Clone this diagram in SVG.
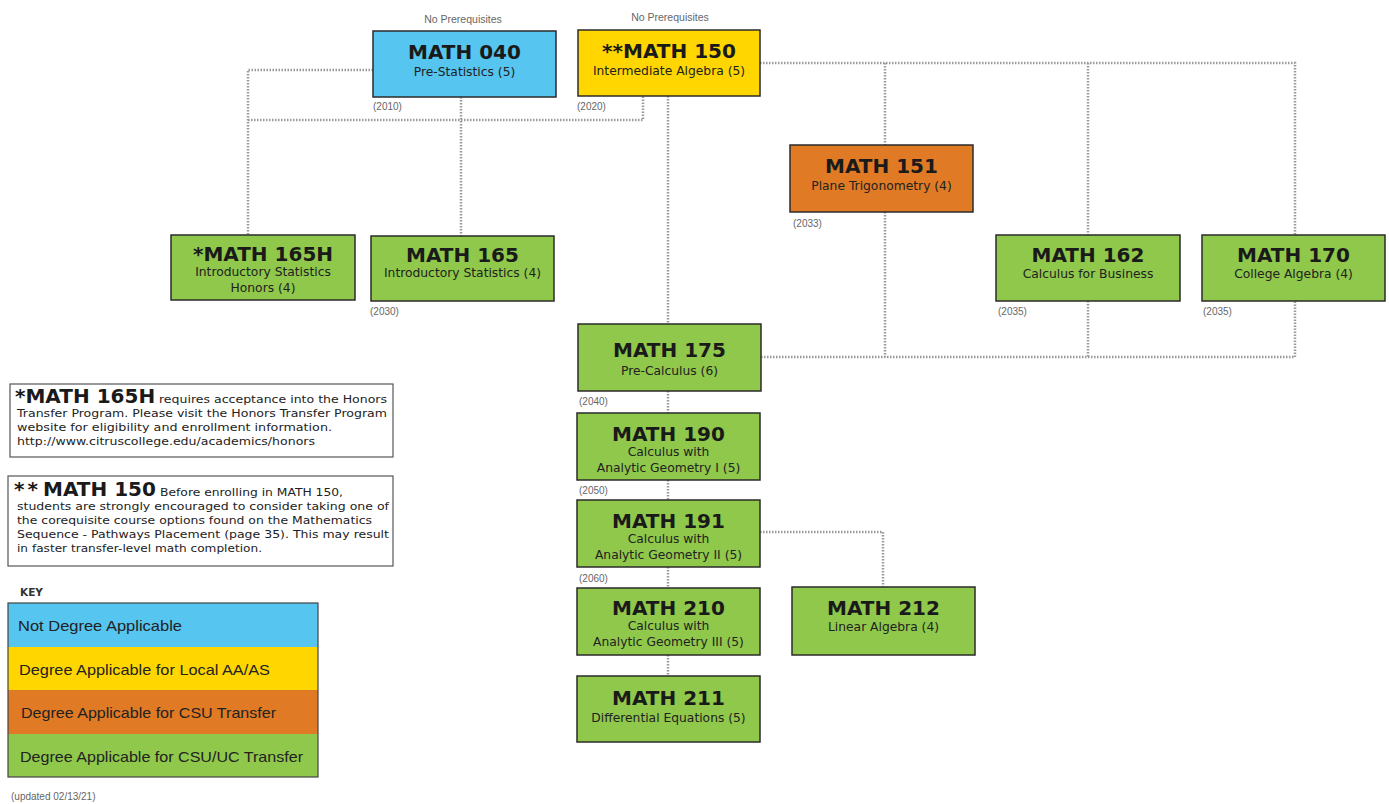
<svg xmlns="http://www.w3.org/2000/svg" width="1389" height="804" viewBox="0 0 1389 804">
<style>
.box{stroke:#2b2b2b;stroke-width:1.5}
.blue{fill:#56c5ef}.yellow{fill:#ffd600}.orange{fill:#e07a25}.green{fill:#8fc84a}
.t{font-family:"DejaVu Sans",Verdana,sans-serif;font-weight:bold;font-size:20px;fill:#1a1a1a;text-anchor:middle}
.s{font-family:"DejaVu Sans",Verdana,sans-serif;font-size:12.3px;fill:#222;text-anchor:middle}
.yr{font-family:"Liberation Sans",Arial,sans-serif;font-size:10px;fill:#666}
.np{font-family:"Liberation Sans",Arial,sans-serif;font-size:10.5px;fill:#666;text-anchor:middle}
.c{fill:none;stroke:#9a9a9a;stroke-width:2.5;stroke-dasharray:1.5 1.5}
.note{font-family:"DejaVu Sans",Verdana,sans-serif;font-size:11px;fill:#222}
.noteb{font-family:"DejaVu Sans",Verdana,sans-serif;font-size:20px;font-weight:bold;fill:#1a1a1a}
.key{font-family:"Liberation Sans",Arial,sans-serif;font-size:15px;fill:#222}
</style>
<rect width="1389" height="804" fill="#ffffff"/>
<g id="connectors">
<path class="c" d="M373 70 H248 V235"/>
<path class="c" d="M248 120 H643 V96"/>
<path class="c" d="M461 97 V236"/>
<path class="c" d="M668 96 V324"/>
<path class="c" d="M760 63 H1295 V235"/>
<path class="c" d="M885 63 V145"/>
<path class="c" d="M1088 63 V235"/>
<path class="c" d="M761 357 H1295 V301"/>
<path class="c" d="M885 212 V357"/>
<path class="c" d="M1088 301 V357"/>
<path class="c" d="M668 391 V413"/>
<path class="c" d="M668 480 V500"/>
<path class="c" d="M668 567 V588"/>
<path class="c" d="M668 655 V676"/>
<path class="c" d="M760 532 H883 V587"/>
</g>
<g id="math040">
<text class="np" x="463" y="23">No Prerequisites</text>
<rect class="box blue" x="373" y="31" width="183" height="66"/>
<text class="t" x="464.5" y="59">MATH 040</text>
<text class="s" x="464.5" y="76">Pre-Statistics (5)</text>
<text class="yr" x="373" y="110">(2010)</text>
</g>
<g id="math150">
<text class="np" x="670" y="21">No Prerequisites</text>
<rect class="box yellow" x="578" y="30" width="182" height="66"/>
<text class="t" x="669" y="58">**MATH 150</text>
<text class="s" x="669" y="75">Intermediate Algebra (5)</text>
<text class="yr" x="577" y="110">(2020)</text>
</g>
<g id="math151">
<rect class="box orange" x="790" y="145" width="183" height="67"/>
<text class="t" x="881.5" y="173">MATH 151</text>
<text class="s" x="881.5" y="190">Plane Trigonometry (4)</text>
<text class="yr" x="793" y="227">(2033)</text>
</g>
<g id="math165h">
<rect class="box green" x="171" y="235" width="184" height="65"/>
<text class="t" x="263" y="261">*MATH 165H</text>
<text class="s" x="263" y="276">Introductory Statistics</text>
<text class="s" x="263" y="292">Honors (4)</text>
</g>
<g id="math165">
<rect class="box green" x="371" y="236" width="183" height="65"/>
<text class="t" x="462.5" y="262">MATH 165</text>
<text class="s" x="462.5" y="277">Introductory Statistics (4)</text>
<text class="yr" x="370" y="315">(2030)</text>
</g>
<g id="math162">
<rect class="box green" x="996" y="235" width="184" height="66"/>
<text class="t" x="1088" y="262">MATH 162</text>
<text class="s" x="1088" y="278">Calculus for Business</text>
<text class="yr" x="998" y="315">(2035)</text>
</g>
<g id="math170">
<rect class="box green" x="1202" y="235" width="183" height="66"/>
<text class="t" x="1293.5" y="262">MATH 170</text>
<text class="s" x="1293.5" y="278">College Algebra (4)</text>
<text class="yr" x="1203" y="315">(2035)</text>
</g>
<g id="math175">
<rect class="box green" x="578" y="324" width="183" height="67"/>
<text class="t" x="669.5" y="357">MATH 175</text>
<text class="s" x="669.5" y="375">Pre-Calculus (6)</text>
<text class="yr" x="579" y="405">(2040)</text>
</g>
<g id="math190">
<rect class="box green" x="577" y="413" width="183" height="67"/>
<text class="t" x="668.5" y="441">MATH 190</text>
<text class="s" x="668.5" y="456">Calculus with</text>
<text class="s" x="668.5" y="472">Analytic Geometry I (5)</text>
<text class="yr" x="579" y="494">(2050)</text>
</g>
<g id="math191">
<rect class="box green" x="577" y="500" width="183" height="67"/>
<text class="t" x="668.5" y="528">MATH 191</text>
<text class="s" x="668.5" y="543">Calculus with</text>
<text class="s" x="668.5" y="559">Analytic Geometry II (5)</text>
<text class="yr" x="579" y="582">(2060)</text>
</g>
<g id="math210">
<rect class="box green" x="577" y="588" width="183" height="67"/>
<text class="t" x="668.5" y="615">MATH 210</text>
<text class="s" x="668.5" y="630">Calculus with</text>
<text class="s" x="668.5" y="646">Analytic Geometry III (5)</text>
</g>
<g id="math211">
<rect class="box green" x="577" y="676" width="183" height="66"/>
<text class="t" x="668.5" y="705">MATH 211</text>
<text class="s" x="668.5" y="722">Differential Equations (5)</text>
</g>
<g id="math212">
<rect class="box green" x="792" y="587" width="183" height="68"/>
<text class="t" x="883.5" y="615">MATH 212</text>
<text class="s" x="883.5" y="631">Linear Algebra (4)</text>
</g>
<g id="note1">
<rect x="10" y="384" width="383" height="73" fill="#fff" stroke="#555" stroke-width="1.2"/>
<text class="noteb" x="15" y="403">*MATH 165H</text>
<text class="note" x="159" y="403" textLength="228" lengthAdjust="spacingAndGlyphs">requires acceptance into the Honors</text>
<text class="note" x="17" y="417" textLength="370" lengthAdjust="spacingAndGlyphs">Transfer Program. Please visit the Honors Transfer Program</text>
<text class="note" x="17" y="431" textLength="315" lengthAdjust="spacingAndGlyphs">website for eligibility and enrollment information.</text>
<text class="note" x="17" y="445" textLength="298" lengthAdjust="spacingAndGlyphs">http://www.citruscollege.edu/academics/honors</text>
</g>
<g id="note2">
<rect x="8" y="476" width="385" height="90" fill="#fff" stroke="#555" stroke-width="1.2"/>
<text class="noteb" x="14" y="496" letter-spacing="3">**</text>
<text class="noteb" x="43" y="496" font-size="19">MATH 150</text>
<text class="note" x="160" y="496" textLength="183" lengthAdjust="spacingAndGlyphs">Before enrolling in MATH 150,</text>
<text class="note" x="17" y="510" textLength="372" lengthAdjust="spacingAndGlyphs">students are strongly encouraged to consider taking one of</text>
<text class="note" x="17" y="524" textLength="355" lengthAdjust="spacingAndGlyphs">the corequisite course options found on the Mathematics</text>
<text class="note" x="17" y="538" textLength="372" lengthAdjust="spacingAndGlyphs">Sequence - Pathways Placement (page 35). This may result</text>
<text class="note" x="17" y="552" textLength="245" lengthAdjust="spacingAndGlyphs">in faster transfer-level math completion.</text>
</g>
<g id="key">
<text x="20" y="596" font-family="DejaVu Sans,Verdana,sans-serif" font-size="10.5" font-weight="bold" fill="#333">KEY</text>
<rect x="8" y="603" width="310" height="44" fill="#56c5ef"/>
<rect x="8" y="647" width="310" height="43" fill="#ffd600"/>
<rect x="8" y="690" width="310" height="44" fill="#e07a25"/>
<rect x="8" y="734" width="310" height="43" fill="#8fc84a"/>
<rect x="8" y="603" width="310" height="174" fill="none" stroke="#444" stroke-width="1.2"/>
<text class="key" x="18" y="631" textLength="164" lengthAdjust="spacingAndGlyphs">Not Degree Applicable</text>
<text class="key" x="19" y="675" textLength="251" lengthAdjust="spacingAndGlyphs">Degree Applicable for Local AA/AS</text>
<text class="key" x="21" y="718" textLength="255" lengthAdjust="spacingAndGlyphs">Degree Applicable for CSU Transfer</text>
<text class="key" x="20" y="762" textLength="283" lengthAdjust="spacingAndGlyphs">Degree Applicable for CSU/UC Transfer</text>
<text class="yr" x="11" y="800">(updated 02/13/21)</text>
</g>
</svg>
